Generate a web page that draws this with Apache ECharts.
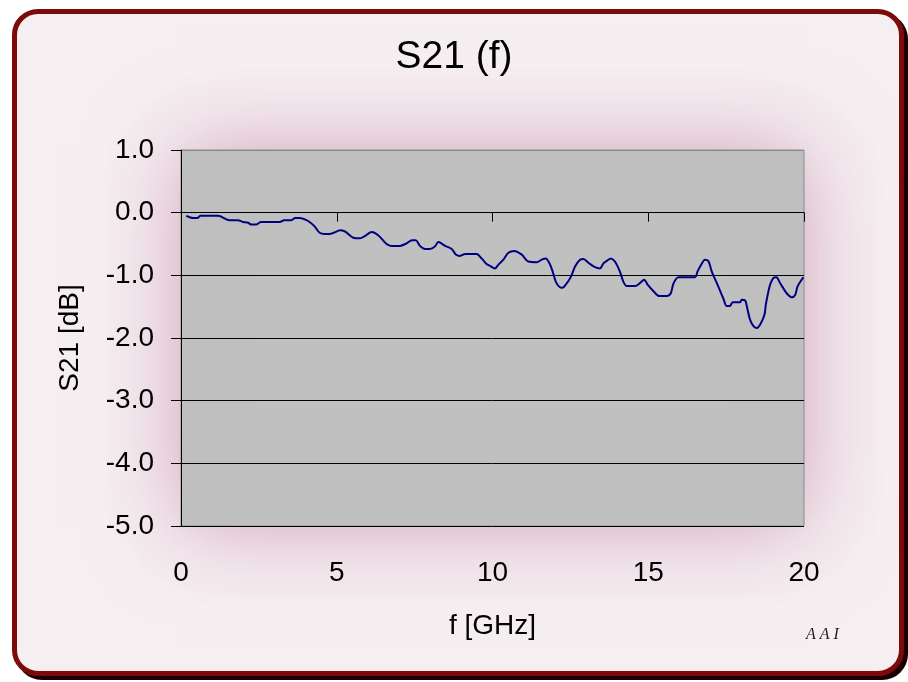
<!DOCTYPE html>
<html>
<head>
<meta charset="utf-8">
<script src="https://cdn.jsdelivr.net/npm/echarts@6/dist/echarts.min.js"></script>
<style>
  html, body { margin: 0; padding: 0; background: #ffffff; }
  #frame {
    position: absolute; left: 12px; top: 9px; width: 882px; height: 657px;
    border: 5px solid #7d0a0a; border-radius: 26px;
    box-shadow: 4px 4px 0 #1a0000;
    background: #f6eff2;
  }
  #main { position: absolute; left: 0; top: 0; width: 908px; height: 682px; }
</style>
</head>
<body>
<div id="frame"></div>
<div id="main"></div>
<script>
// frequency [GHz]
var freq = [0.17, 0.39, 0.52, 0.63, 1.19, 1.56, 1.83, 1.99, 2.15, 2.26, 2.42, 2.56, 3.17, 3.31, 3.54, 3.67, 3.81,
  4.03, 4.18, 4.29, 4.45, 4.61, 4.77, 5.04, 5.10, 5.26, 5.53, 5.75, 5.91, 6.12, 6.33, 6.60, 6.76, 7.03, 7.24,
  7.41, 7.54, 7.67, 7.83, 7.99, 8.15, 8.26, 8.48, 8.69, 8.83, 8.96, 9.12, 9.49, 9.65, 9.81, 9.92, 10.08, 10.19,
  10.35, 10.51, 10.70, 10.94, 11.15, 11.42, 11.58, 11.71, 11.85, 11.95, 12.03, 12.14, 12.24, 12.38, 12.52,
  12.65, 12.81, 12.92, 13.08, 13.29, 13.45, 13.56, 13.67, 13.80, 13.93, 14.09, 14.20, 14.31, 14.58, 14.74,
  14.87, 14.98, 15.16, 15.36, 15.59, 15.72, 15.81, 15.97, 16.50, 16.58, 16.72, 16.82, 16.93, 17.04, 17.25,
  17.41, 17.52, 17.62, 17.71, 17.95, 18.00, 18.11, 18.18, 18.27, 18.38, 18.49, 18.61, 18.73, 18.78, 18.91,
  19.02, 19.11, 19.24, 19.45, 19.61, 19.72, 19.79, 19.98]
// S21 [dB]
var s21 = [-0.05, -0.085, -0.085, -0.05, -0.05, -0.12, -0.12, -0.15, -0.16, -0.19, -0.19, -0.15, -0.15, -0.12,
  -0.12, -0.085, -0.085, -0.12, -0.17, -0.22, -0.32, -0.34, -0.34, -0.29, -0.28, -0.30, -0.40, -0.41, -0.37,
  -0.31, -0.36, -0.50, -0.53, -0.53, -0.49, -0.44, -0.44, -0.53, -0.58, -0.58, -0.54, -0.47, -0.53, -0.58,
  -0.67, -0.69, -0.66, -0.66, -0.73, -0.82, -0.85, -0.89, -0.83, -0.75, -0.64, -0.61, -0.67, -0.78, -0.79,
  -0.75, -0.73, -0.83, -0.97, -1.10, -1.18, -1.20, -1.13, -1.02, -0.86, -0.75, -0.74, -0.80, -0.87, -0.89,
  -0.81, -0.77, -0.73, -0.78, -0.94, -1.10, -1.17, -1.17, -1.12, -1.07, -1.15, -1.25, -1.33, -1.33, -1.29,
  -1.13, -1.03, -1.03, -0.94, -0.81, -0.75, -0.77, -0.94, -1.18, -1.37, -1.49, -1.49, -1.43, -1.43, -1.39,
  -1.40, -1.53, -1.71, -1.81, -1.84, -1.77, -1.63, -1.45, -1.15, -1.04, -1.03, -1.13, -1.29, -1.35, -1.31,
  -1.18, -1.03]

var font = 'Liberation Sans, Arial, sans-serif'
var data = freq.map(function (f, i) { return [f, s21[i]] })

var chart = echarts.init(document.getElementById('main'))
chart.setOption({
  animation: false,
  title: {
    text: 'S21 (f)',
    left: 'center',
    top: 33,
    textStyle: { fontFamily: font, fontSize: 39, fontWeight: 'normal', color: '#000' }
  },
  grid: {
    left: 181, top: 150, width: 623, height: 376,
    show: true,
    backgroundColor: '#c0c0c0',
    borderColor: '#8a8a8a',
    borderWidth: 1,
    shadowBlur: 80,
    shadowColor: 'rgba(185, 115, 150, 0.6)'
  },
  xAxis: [
    {
      type: 'value', min: 0, max: 20, interval: 5,
      position: 'bottom',
      name: 'f [GHz]', nameLocation: 'middle', nameGap: 86,
      nameTextStyle: { fontFamily: font, fontSize: 28, color: '#000' },
      axisLine: { show: false, onZero: false },
      axisTick: { show: false },
      splitLine: { show: false },
      axisLabel: { fontFamily: font, fontSize: 28, color: '#000', margin: 33 }
    },
    {
      type: 'value', min: 0, max: 20, interval: 5,
      position: 'bottom',
      axisLine: { show: true, onZero: true, lineStyle: { color: '#000', width: 1 } },
      axisTick: { show: true, length: 9, lineStyle: { color: '#000' } },
      axisLabel: { show: false },
      splitLine: { show: false }
    }
  ],
  yAxis: {
    type: 'value', min: -5, max: 1, interval: 1,
    name: 'S21 [dB]', nameLocation: 'middle', nameGap: 97,
    nameTextStyle: { fontFamily: font, fontSize: 28, color: '#000' },
    axisLine: { show: true, lineStyle: { color: '#000', width: 1 } },
    axisTick: { show: true, length: 10, lineStyle: { color: '#000' } },
    axisLabel: {
      fontFamily: font, fontSize: 28, color: '#000', margin: 27,
      formatter: function (v) { return v.toFixed(1) }
    },
    splitLine: {
      show: true,
      lineStyle: { color: ['#000', '#000', '#000', '#000', '#000', '#000', '#8a8a8a'], width: 1 }
    }
  },
  series: [
    {
      type: 'line',
      xAxisIndex: 0,
      data: data,
      showSymbol: false,
      smooth: 0.3,
      lineStyle: { color: '#000080', width: 2 }
    }
  ],
  graphic: [
    {
      type: 'text', left: 806, top: 627,
      style: { text: 'A A I', font: 'italic 16px "Liberation Serif", serif', fill: '#222' }
    }
  ]
})
</script>
</body>
</html>
